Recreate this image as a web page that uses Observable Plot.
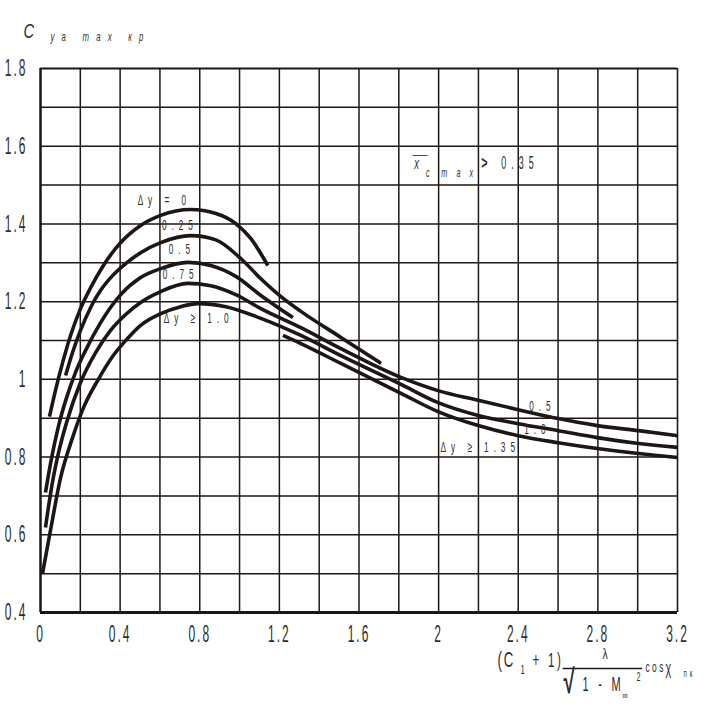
<!DOCTYPE html>
<html><head><meta charset="utf-8">
<script src="https://cdn.jsdelivr.net/npm/d3@7"></script>
<script src="https://cdn.jsdelivr.net/npm/@observablehq/plot@0.6"></script>
<style>body{margin:0;background:#fff;}svg{display:block;}</style>
</head><body><div id="chart"></div>
<script>
// ---- axes / grid values ----
const xGrid = [0,0.2,0.4,0.6,0.8,1.0,1.2,1.4,1.6,1.8,2.0,2.2,2.4,2.6,2.8,3.0,3.2];
const yGrid = [0.4,0.5,0.6,0.7,0.8,0.9,1.0,1.1,1.2,1.3,1.4,1.5,1.6,1.7,1.8];
const xTicks = [0,0.4,0.8,1.2,1.6,2,2.4,2.8,3.2];
const xTickLabels = ["0","0.4","0.8","1.2","1.6","2","2.4","2.8","3.2"];
const yTicks = [0.4,0.6,0.8,1,1.2,1.4,1.6,1.8];
const yTickLabels = ["0.4","0.6","0.8","1","1.2","1.4","1.6","1.8"];

// ---- curves ----
const dy0X = [0.045,0.075,0.111,0.151,0.201,0.252,0.312,0.403,0.503,0.604,0.755,0.881,0.981,1.057,1.142];
const dy0Y = [0.904,0.971,1.043,1.113,1.182,1.236,1.290,1.352,1.396,1.422,1.437,1.427,1.401,1.362,1.293];

const dy025X = [0.126,0.161,0.201,0.252,0.302,0.362,0.428,0.503,0.604,0.755,0.881,1.006,1.107,1.208,1.308,1.509,1.711];
const dy025Y = [1.010,1.069,1.126,1.185,1.229,1.267,1.298,1.326,1.352,1.370,1.359,1.311,1.259,1.213,1.175,1.108,1.041];

const dy05X = [0.025,0.055,0.091,0.131,0.176,0.226,0.302,0.403,0.503,0.604,0.740,0.855,0.981,1.107,1.268];
const dy05Y = [0.709,0.796,0.881,0.953,1.018,1.074,1.146,1.218,1.262,1.285,1.301,1.293,1.265,1.216,1.159];

const dy075X = [0.025,0.060,0.091,0.131,0.201,0.277,0.352,0.428,0.503,0.604,0.740,0.855,0.981,1.107,1.308,1.509,1.811,1.997,2.199,2.400,2.601,2.797,3.004,3.2];
const dy075Y = [0.619,0.735,0.812,0.889,0.992,1.069,1.126,1.167,1.198,1.226,1.247,1.241,1.218,1.182,1.133,1.079,1.005,0.971,0.946,0.922,0.899,0.881,0.868,0.855];

const dy10X = [0.010,0.050,0.101,0.161,0.221,0.287,0.362,0.428,0.503,0.604,0.704,0.790,0.931,1.107,1.308,1.509,1.811,1.997,2.199,2.400,2.601,2.797,3.004,3.2];
const dy10Y = [0.500,0.611,0.747,0.850,0.933,0.997,1.059,1.100,1.139,1.169,1.187,1.195,1.187,1.157,1.113,1.061,0.987,0.940,0.907,0.886,0.868,0.850,0.835,0.825];

const dy135X = [1.218,1.308,1.509,1.811,1.997,2.199,2.400,2.601,2.797,3.004,3.2];
const dy135Y = [1.113,1.092,1.041,0.964,0.917,0.881,0.855,0.837,0.822,0.809,0.799];

const seriesNames = ["Δy=0","Δy=0.25","Δy=0.5","Δy=0.75","Δy=1.0","Δy≥1.35"];
const seriesX = [dy0X,dy025X,dy05X,dy075X,dy10X,dy135X];
const seriesY = [dy0Y,dy025Y,dy05Y,dy075Y,dy10Y,dy135Y];

const rows = [];
seriesNames.forEach((s,k) => seriesX[k].forEach((x,i) => rows.push({series:s, x, y: seriesY[k][i]})));

// ---- annotation texts ----
const curveLabels = ["Δy = 0","0.25","0.5","0.75","Δy ≥ 1.0","0.5","1.0","Δy ≥ 1.35"];
const curveLabelX = [0.488,0.61,0.644,0.614,0.619,2.455,2.43,2.01];
const curveLabelY = [1.460,1.398,1.334,1.270,1.157,0.930,0.872,0.825];

const ink = "#1c1616";
const txt = "#2e2e2e";
const font = "Liberation Sans, Arial, sans-serif";

// each text mark is squeezed horizontally afterwards; keep its settings in order
const textCfg = [];
function T(data, opts, sx, ls) {
  textCfg.push({sx, ls});
  return Plot.text(data, {fill: txt, fontFamily: font, ...opts});
}

const plot = Plot.plot({
  width: 706, height: 708,
  marginLeft: 40, marginRight: 29, marginTop: 68, marginBottom: 96,
  x: {domain: [0, 3.2], axis: null},
  y: {domain: [0.4, 1.8], axis: null},
  style: {background: "#fff", overflow: "visible", fontFamily: font},
  marks: [
    Plot.ruleX(xGrid.slice(1, -1), {stroke: ink, strokeWidth: 1.5}),
    Plot.ruleY(yGrid.slice(1, -1), {stroke: ink, strokeWidth: 1.5}),
    Plot.ruleX([xGrid[xGrid.length-1]], {stroke: ink, strokeWidth: 1.6}),
    Plot.ruleY([yGrid[yGrid.length-1]], {stroke: ink, strokeWidth: 2}),
    Plot.ruleX([xGrid[0]], {stroke: ink, strokeWidth: 2.5}),
    Plot.ruleY([yGrid[0]], {stroke: ink, strokeWidth: 3}),
    Plot.line(rows, {x: "x", y: "y", z: "series", curve: "monotone-x", stroke: ink, strokeWidth: 3.6, strokeLinecap: "butt"}),
    // fraction bar of the x title and the bar over x_c
    Plot.ruleY([0.4 - 56 / 388.6], {x1: 2.626, x2: 3.024, stroke: ink, strokeWidth: 1.6}),
    Plot.ruleY([1.576], {x1: 1.872, x2: 1.947, stroke: "#444", strokeWidth: 1}),
    // tick labels
    T(xTicks, {x: d => d, y: () => 0.4, text: (d, i) => xTickLabels[i], dy: 22, fontSize: 24}, 0.5, 4),
    T(yTicks, {x: () => 0, y: d => d, text: (d, i) => yTickLabels[i], dx: -13, textAnchor: "end", fontSize: 24}, 0.5, 4),
    // curve labels
    T(curveLabels, {x: (d, i) => curveLabelX[i], y: (d, i) => curveLabelY[i], text: d => d, textAnchor: "start", fontSize: 15}, 0.55, 9),
    // x̄c max > 0.35
    T(["x"], {x: () => 1.877, y: () => 1.555, text: d => d, textAnchor: "start", fontSize: 16, fontStyle: "italic"}, 0.6, 0),
    T(["c", "m a x"], {x: (d, i) => [1.937, 2.013][i], y: () => 1.530, text: d => d, textAnchor: "start", fontSize: 12, fontStyle: "italic"}, 0.6, 6),
    T([">"], {x: () => 2.214, y: () => 1.555, text: d => d, textAnchor: "start", fontSize: 18, fontWeight: "bold"}, 0.6, 0),
    T(["0.35"], {x: () => 2.314, y: () => 1.555, text: d => d, textAnchor: "start", fontSize: 18}, 0.5, 10),
    // y title
    T(["C"], {frameAnchor: "top-left", dx: -17, dy: -45, text: d => d, textAnchor: "start", fontSize: 21, fontStyle: "italic"}, 0.7, 0),
    T(["ya max кр"], {frameAnchor: "top-left", dx: 10, dy: -37, text: d => d, textAnchor: "start", fontSize: 13, fontStyle: "italic"}, 0.6, 12),
    // x title formula
    T(["(C"], {frameAnchor: "bottom-right", dx: -180, dy: 54, text: d => d, textAnchor: "start", fontSize: 22}, 0.6, 3),
    T(["1"], {frameAnchor: "bottom-right", dx: -157, dy: 61, text: d => d, textAnchor: "start", fontSize: 13}, 0.6, 0),
    T(["+ 1)"], {frameAnchor: "bottom-right", dx: -145, dy: 54, text: d => d, textAnchor: "start", fontSize: 21}, 0.55, 5),
    T(["λ"], {frameAnchor: "bottom-right", dx: -75, dy: 46, text: d => d, textAnchor: "start", fontSize: 15}, 0.7, 0),
    T(["√"], {frameAnchor: "bottom-right", dx: -114, dy: 80, text: d => d, textAnchor: "start", fontSize: 34, fontWeight: "bold"}, 0.6, 0),
    T(["1 - M"], {frameAnchor: "bottom-right", dx: -95, dy: 78, text: d => d, textAnchor: "start", fontSize: 20}, 0.55, 6),
    T(["∞"], {frameAnchor: "bottom-right", dx: -55, dy: 86, text: d => d, textAnchor: "start", fontSize: 11}, 0.7, 0),
    T(["2"], {frameAnchor: "bottom-right", dx: -41, dy: 68, text: d => d, textAnchor: "start", fontSize: 12}, 0.6, 0),
    T(["cos"], {frameAnchor: "bottom-right", dx: -32, dy: 59, text: d => d, textAnchor: "start", fontSize: 14}, 0.6, 4),
    T(["χ"], {frameAnchor: "bottom-right", dx: -12, dy: 61, text: d => d, textAnchor: "start", fontSize: 18}, 0.6, 0),
    T(["пк"], {frameAnchor: "bottom-right", dx: 6, dy: 64, text: d => d, textAnchor: "start", fontSize: 10}, 0.6, 5)
  ]
});

// horizontal condensing of the text (the reference uses a tall, narrow typeface)
d3.select(plot).selectAll(`g[aria-label="text"]`).each(function(_, k) {
  const cfg = textCfg[k];
  if (!cfg) return;
  d3.select(this).selectAll("text").each(function() {
    let t = this.getAttribute("transform");
    if (!t) {
      const x = +this.getAttribute("x") || 0, y = +this.getAttribute("y") || 0;
      this.removeAttribute("x"); this.removeAttribute("y");
      t = `translate(${x},${y})`;
    }
    this.setAttribute("transform", `${t} scale(${cfg.sx},1)`);
    if (cfg.ls) this.setAttribute("letter-spacing", cfg.ls);
  });
});

document.getElementById("chart").appendChild(plot);
</script>
</body></html>
